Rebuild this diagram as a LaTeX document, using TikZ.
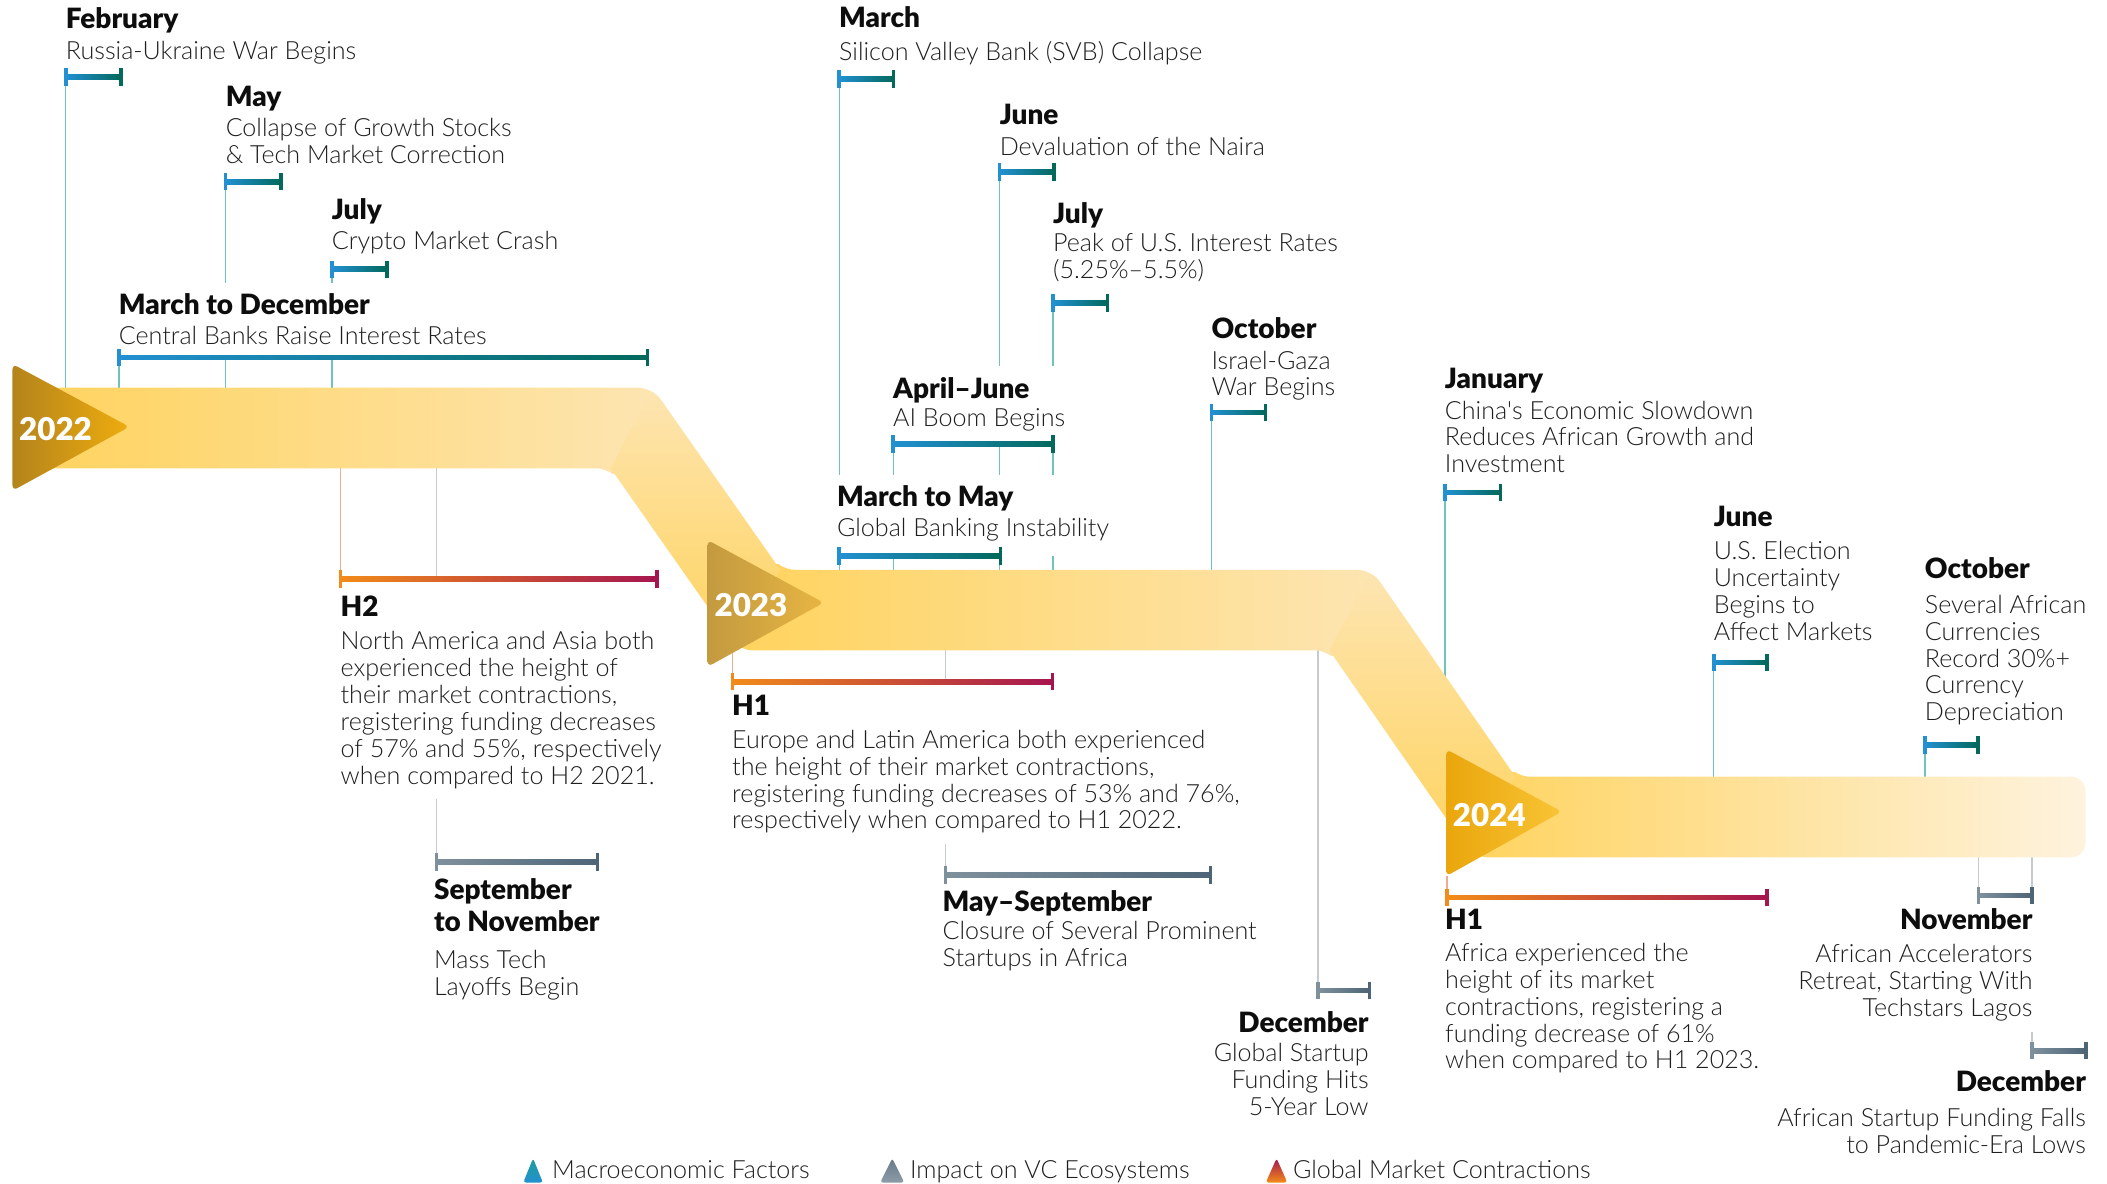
\documentclass[tikz,border=0pt]{standalone}
\usepackage{fontspec}
\setmainfont{Lato}[UprightFont={* Light},BoldFont={* Black}]
\newfontfamily\headfont{Lato Black}

\definecolor{macA}{HTML}{2290D1}
\definecolor{macB}{HTML}{02695C}
\definecolor{macLine}{HTML}{6CC4BC}
\definecolor{vcA}{HTML}{7F909D}
\definecolor{vcB}{HTML}{4D6577}
\definecolor{vcLine}{HTML}{C6CBD1}
\definecolor{mktA}{HTML}{F28B1A}
\definecolor{mktB}{HTML}{A5154F}
\definecolor{mktLine}{HTML}{F0AC8E}
\definecolor{bandSat}{HTML}{FFD35E}
\definecolor{bandPale}{HTML}{FDE5B2}
\definecolor{bandEnd}{HTML}{FEF3DF}
\definecolor{headcol}{HTML}{0D0D0D}
\definecolor{bodycol}{HTML}{1E1E1E}

\tikzset{
  head/.style={anchor=base west, inner sep=0pt, outer xsep=0pt, outer ysep=6pt, text=headcol, font=\fontsize{15.6}{17}\selectfont\headfont},
  headr/.style={head, anchor=base east},
  body/.style={anchor=north west, inner sep=0pt, outer xsep=0pt, outer ysep=6pt, align=left, text=bodycol, font=\fontsize{14}{15}\selectfont},
  bodyr/.style={body, anchor=north east, align=right},
  macline/.style={draw=macLine, line width=0.7pt},
  vcline/.style={draw=vcLine, line width=0.7pt},
  mktline/.style={draw=mktLine, line width=0.7pt},
  year/.style={anchor=base west, inner sep=0pt, text=white, font=\fontsize{17.5}{18}\selectfont\headfont},
  legend/.style={anchor=base west, inner sep=0pt, text=bodycol, font=\fontsize{14}{15}\selectfont},
}

% range bar with end ticks between (#1-l) and (#1-r)
\newcommand{\rangebar}[3]{%
  \shade[left color=#2, right color=#3] ([yshift=1.3pt]#1-l) rectangle ([yshift=-1.3pt]#1-r);
  \draw[#2, line width=1.9pt] ([yshift=4.9pt]#1-l) -- ([yshift=-4.9pt]#1-l);
  \draw[#3, line width=1.9pt] ([yshift=4.9pt]#1-r) -- ([yshift=-4.9pt]#1-r);
}

\begin{document}
\begin{tikzpicture}[x=0.75pt,y=0.75pt,yscale=-1,xscale=1]
  \useasboundingbox (0,0) rectangle (1568,881);

  % band levels
  \coordinate (b22) at (0,318.5);
  \coordinate (b23) at (0,454);
  \coordinate (b24) at (0,608);
  \coordinate (diag2) at (1058.5,531);

  % bar end points
  \coordinate (feb-l) at (49,57.1);       \coordinate (feb-r) at (90,57.1);
  \coordinate (may-l) at (168,135.2);     \coordinate (may-r) at (209,135.2);
  \coordinate (jul22-l) at (247,200.4);   \coordinate (jul22-r) at (288,200.4);
  \coordinate (mardec-l) at (88.5,266);   \coordinate (mardec-r) at (482,266);
  \coordinate (mar23-l) at (624.5,58.7);  \coordinate (mar23-r) at (665,58.7);
  \coordinate (jun23-l) at (744,128.2);   \coordinate (jun23-r) at (784.5,128.2);
  \coordinate (jul23-l) at (783.7,225.5); \coordinate (jul23-r) at (824,225.5);
  \coordinate (oct23-l) at (901.6,307);   \coordinate (oct23-r) at (941.8,307);
  \coordinate (aprjun-l) at (664.7,330.6); \coordinate (aprjun-r) at (783.7,330.6);
  \coordinate (marmay-l) at (624.5,413.6); \coordinate (marmay-r) at (744.5,413.6);
  \coordinate (jan24-l) at (1075.3,366.4); \coordinate (jan24-r) at (1116.7,366.4);
  \coordinate (jun24-l) at (1275.4,492.9); \coordinate (jun24-r) at (1315,492.9);
  \coordinate (oct24-l) at (1432.5,554.4); \coordinate (oct24-r) at (1472,554.4);
  \coordinate (h2-l) at (253.5,430.7);    \coordinate (h2-r) at (489,430.7);
  \coordinate (sepnov-l) at (325,641.3);  \coordinate (sepnov-r) at (444.6,641.3);
  \coordinate (h123-l) at (544.9,507.3);  \coordinate (h123-r) at (783.4,507.3);
  \coordinate (maysep-l) at (703.7,651.3); \coordinate (maysep-r) at (900.7,651.3);
  \coordinate (dec23-l) at (980.8,737.2); \coordinate (dec23-r) at (1019.3,737.2);
  \coordinate (h124-l) at (1076.8,668);   \coordinate (h124-r) at (1315,668);
  \coordinate (nov24-l) at (1472.5,666.5); \coordinate (nov24-r) at (1512.2,666.5);
  \coordinate (dec24-l) at (1512.2,781.9); \coordinate (dec24-r) at (1552.3,781.9);

  % year triangle corners
  \coordinate (t24-c) at (1076.3,652);

  % Text Node: above the band
  \node[head] (feb-h) at (49,21.1) {February};
  \node[body] (feb-t) at (49,22.4) {Russia-Ukraine War Begins};
  \node[head] (may-h) at (168,79.4) {May};
  \node[body] (may-t) at (168,80) {Collapse of Growth Stocks\\\& Tech Market Correction};
  \node[head] (jul22-h) at (247,163.7) {July};
  \node[body] (jul22-t) at (247,164.3) {Crypto Market Crash};
  \node[head] (mardec-h) at (88.5,234.4) {March to December};
  \node[body] (mardec-t) at (88.5,235) {Central Banks Raise Interest Rates};
  \node[head] (mar23-h) at (624.5,20.6) {March};
  \node[body] (mar23-t) at (624.5,22.7) {Silicon Valley Bank (SVB) Collapse};
  \node[head] (jun23-h) at (744,93) {June};
  \node[body] (jun23-t) at (744,94.2) {Devaluation of the Naira};
  \node[head] (jul23-h) at (783.7,166) {July};
  \node[body] (jul23-t) at (783.7,165.8) {Peak of U.S. Interest Rates\\(5.25\%–5.5\%)};
  \node[head] (oct23-h) at (901.6,251.9) {October};
  \node[body] (oct23-t) at (901.6,253.1) {Israel-Gaza\\War Begins};
  \node[head] (aprjun-h) at (664.7,296.2) {April–June};
  \node[body] (aprjun-t) at (664.7,296) {AI Boom Begins};
  \node[head] (marmay-h) at (623,377.2) {March to May};
  \node[body] (marmay-t) at (623,377.6) {Global Banking Instability};
  \node[head] (jan24-h) at (1075.3,289.1) {January};
  \node[body] (jan24-t) at (1075.3,290.3) {China\textquotesingle s Economic Slowdown\\Reduces African Growth and\\Investment};
  \node[head] (jun24-h) at (1275.4,392) {June};
  \node[body] (jun24-t) at (1275.4,394.8) {U.S. Election\\Uncertainty\\Begins to\\Affect Markets};
  \node[head] (oct24-h) at (1432.5,430.8) {October};
  \node[body] (oct24-t) at (1432.5,434.8) {Several African\\Currencies\\Record 30\%+\\Currency\\Depreciation};

  % Text Node: below the band
  \node[head] (h2-h) at (253.5,459) {H2};
  \node[body] (h2-t) at (253.5,462.1) {North America and Asia both\\experienced the height of\\their market contractions,\\registering funding decreases\\of 57\% and 55\%, respectively\\when compared to H2 2021.};
  \node[head] (sepnov-h) at (323,669.7) {September};
  \node[head] (sepnov-h2) at (323,693.3) {to November};
  \node[body] (sepnov-t) at (323,698.9) {Mass Tech\\Layoffs Begin};
  \node[head] (h123-h) at (544.9,532.1) {H1};
  \node[body] (h123-t) at (544.9,535.3) {Europe and Latin America both experienced\\the height of their market contractions,\\registering funding decreases of 53\% and 76\%,\\respectively when compared to H1 2022.};
  \node[head] (maysep-h) at (701.5,678.4) {May–September};
  \node[body] (maysep-t) at (701.5,677.8) {Closure of Several Prominent\\Startups in Africa};
  \node[headr] (dec23-h) at (1018.5,768.3) {December};
  \node[bodyr] (dec23-t) at (1018.5,768.3) {Global Startup\\Funding Hits\\5-Year Low};
  \node[head] (h124-h) at (1075.5,692) {H1};
  \node[body] (h124-t) at (1075.5,693.9) {Africa experienced the\\height of its market\\contractions, registering a\\funding decrease of 61\%\\when compared to H1 2023.};
  \node[headr] (nov24-h) at (1512.5,692) {November};
  \node[bodyr] (nov24-t) at (1512.5,694.7) {African Accelerators\\Retreat, Starting With\\Techstars Lagos};
  \node[headr] (dec24-h) at (1552.3,812.4) {December};
  \node[bodyr] (dec24-t) at (1552.3,816.8) {African Startup Funding Falls\\to Pandemic-Era Lows};

  % Straight Lines: leaders, drawn before the band so it hides their ends
  \draw[macline] (feb-l) -- (feb-l |- b22);
  \draw[macline] (may-l) -- (may-l |- mardec-h.north) (may-l |- mardec-l) -- (may-l |- b22);
  \draw[macline] (jul22-l) -- (jul22-l |- mardec-h.north) (jul22-l |- mardec-l) -- (jul22-l |- b22);
  \draw[macline] (mardec-l) -- (mardec-l |- b22);
  \draw[macline] (mar23-l) -- (mar23-l |- marmay-h.north);
  \draw[macline] (jun23-l) -- (jun23-l |- aprjun-h.north) (jun23-l |- aprjun-l) -- (jun23-l |- marmay-h.north) (jun23-l |- marmay-l) -- (jun23-l |- b23);
  \draw[macline] (jul23-l) -- (jul23-l |- aprjun-h.north) (jul23-l |- aprjun-l) -- (jul23-l |- marmay-h.north) (jul23-l |- marmay-l) -- (jul23-l |- b23);
  \draw[macline] (aprjun-l) -- (aprjun-l |- marmay-h.north) (aprjun-l |- marmay-l) -- (aprjun-l |- b23);
  \draw[macline] (marmay-l) -- (marmay-l |- b23);
  \draw[macline] (oct23-l) -- (oct23-l |- b23);
  \draw[macline] (jan24-l) -- (jan24-l |- diag2);
  \draw[macline] (jun24-l) -- (jun24-l |- b24);
  \draw[macline] (oct24-l) -- (oct24-l |- b24);
  \draw[mktline] (h2-l |- b22) -- (h2-l);
  \draw[vcline] (sepnov-l |- b22) -- (sepnov-l |- h2-l) (sepnov-l |- h2-t.south) -- (sepnov-l);
  \draw[mktline] (h123-l |- b23) -- (h123-l);
  \draw[vcline] (maysep-l |- b23) -- (maysep-l |- h123-l) (maysep-l |- h123-t.south) -- (maysep-l);
  \draw[vcline] (dec23-l |- b23) -- (dec23-l);
  \draw[mktline] (h124-l |- t24-c) -- (h124-l);
  \draw[vcline] (nov24-l |- b24) -- (nov24-l);
  \draw[vcline] (dec24-l |- b24) -- (dec24-l |- nov24-l) (dec24-l |- nov24-t.south) -- (dec24-l);

  % the band
  \begin{scope}
    \clip[rounded corners=8pt] (20,288.5) -- (485.6,288.5) -- (580.6,424) -- (1020.7,424) -- (1127.7,578) -- (1552,578) -- (1552,638) -- (1096.3,638) -- (989.3,484) -- (549.4,484) -- (454.4,348.5) -- (20,348.5) -- cycle;
    \shade[left color=bandSat, right color=bandPale] (20,285) rectangle (490,352);
    \shade[left color=bandSat, right color=bandPale] (545,420) rectangle (1025,488);
    \shade[left color=bandSat, right color=bandEnd] (1090,575) rectangle (1555,641);
    \shade[top color=bandPale, bottom color=bandSat] (485.6,288.5) -- (580.6,424) -- (549.4,484) -- (454.4,348.5) -- cycle;
    \shade[top color=bandPale, bottom color=bandSat] (1020.7,424) -- (1127.7,578) -- (1096.3,638) -- (989.3,484) -- cycle;
  \end{scope}

  % year triangles
  \shade[left color={rgb,255:red,180;green,132;blue,28}, right color={rgb,255:red,238;green,172;blue,14}, rounded corners=3pt] (9.3,270.9) -- (96.3,317.6) -- (9.3,365.2) -- cycle;
  \shade[left color={rgb,255:red,195;green,154;blue,64}, right color={rgb,255:red,232;green,181;blue,66}, rounded corners=3pt] (526.6,401.9) -- (613,448.5) -- (526.6,496.2) -- cycle;
  \shade[left color={rgb,255:red,234;green,166;blue,12}, right color={rgb,255:red,248;green,196;blue,54}, rounded corners=3pt] (1076.3,557.6) -- (1162.3,604) -- (t24-c) -- cycle;
  \node[year] (y22) at (14,327.5) {2022};
  \node[year] (y23) at (531.5,459) {2023};
  \node[year] (y24) at (1081,614.8) {2024};

  % bars
  \rangebar{feb}{macA}{macB}
  \rangebar{may}{macA}{macB}
  \rangebar{jul22}{macA}{macB}
  \rangebar{mardec}{macA}{macB}
  \rangebar{mar23}{macA}{macB}
  \rangebar{jun23}{macA}{macB}
  \rangebar{jul23}{macA}{macB}
  \rangebar{oct23}{macA}{macB}
  \rangebar{aprjun}{macA}{macB}
  \rangebar{marmay}{macA}{macB}
  \rangebar{jan24}{macA}{macB}
  \rangebar{jun24}{macA}{macB}
  \rangebar{oct24}{macA}{macB}
  \rangebar{h2}{mktA}{mktB}
  \rangebar{h123}{mktA}{mktB}
  \rangebar{h124}{mktA}{mktB}
  \rangebar{sepnov}{vcA}{vcB}
  \rangebar{maysep}{vcA}{vcB}
  \rangebar{dec23}{vcA}{vcB}
  \rangebar{nov24}{vcA}{vcB}
  \rangebar{dec24}{vcA}{vcB}

  % legend
  \shade[top color={rgb,255:red,31;green,158;blue,152}, bottom color=macA, rounded corners=1.5pt] (389.4,880) -- (396.7,862) -- (404,880) -- cycle;
  \shade[top color={rgb,255:red,104;green,122;blue,138}, bottom color={rgb,255:red,140;green,155;blue,167}, rounded corners=1.5pt] (655,880) -- (664,862) -- (673,880) -- cycle;
  \shade[top color=mktB, bottom color=mktA, rounded corners=1.5pt] (942,880) -- (950,862) -- (958,880) -- cycle;
  \node[legend] (leg-mac) at (410.7,876.9) {Macroeconomic Factors};
  \node[legend] (leg-vc) at (677,876.9) {Impact on VC Ecosystems};
  \node[legend] (leg-mkt) at (962,876.9) {Global Market Contractions};

\end{tikzpicture}
\end{document}
